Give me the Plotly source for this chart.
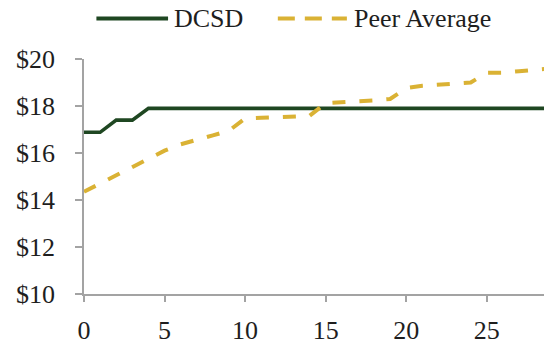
import plotly.graph_objects as go

# ---- data ----
years = list(range(0, 30))
dcsd = [16.88, 16.88, 17.40, 17.40, 17.90, 17.90, 17.90, 17.90, 17.90, 17.90,
        17.90, 17.90, 17.90, 17.90, 17.90, 17.90, 17.90, 17.90, 17.90, 17.90,
        17.90, 17.90, 17.90, 17.90, 17.90, 17.90, 17.90, 17.90, 17.90, 17.90]
peer = [14.35, 14.70, 15.04, 15.38, 15.72, 16.10, 16.37, 16.58, 16.75, 16.95,
        17.47, 17.50, 17.52, 17.54, 17.58, 18.12, 18.15, 18.20, 18.24, 18.30,
        18.76, 18.86, 18.90, 18.93, 19.00, 19.41, 19.42, 19.48, 19.56, 19.60]
series_names = ["DCSD", "Peer Average"]
x_ticks = [0, 5, 10, 15, 20, 25]
y_ticks = [10, 12, 14, 16, 18, 20]
y_tick_labels = ["$10", "$12", "$14", "$16", "$18", "$20"]

GREEN = "#1F4722"
GOLD = "#DAB234"
AXIS = "#A3A3A3"
FONT = "Liberation Serif, Times New Roman, Times, serif"
TXT = "#1E1E1E"

W, H = 544, 345
ML, MR, MT, MB = 84.3, 0, 59, 41.7
PW, PH = W - ML - MR, H - MT - MB

def px(x):
    return (x - ML) / PW

def py(y):
    return (H - MB - y) / PH

fig = go.Figure()
fig.add_trace(go.Scatter(x=years, y=dcsd, mode="lines", name=series_names[0],
                         line=dict(color=GREEN, width=3.6)))
fig.add_trace(go.Scatter(x=years, y=peer, mode="lines", name=series_names[1],
                         line=dict(color=GOLD, width=4, dash="13px,14px")))

# manual legend
leg_y = py(17.0)
fig.add_shape(type="line", xref="paper", yref="paper",
              x0=px(96.7), x1=px(168.3), y0=leg_y, y1=leg_y,
              line=dict(color=GREEN, width=4))
fig.add_shape(type="line", xref="paper", yref="paper",
              x0=px(278), x1=px(347), y0=leg_y, y1=leg_y,
              line=dict(color=GOLD, width=4, dash="17px,10px"))
fig.add_annotation(xref="paper", yref="paper", x=px(172), y=leg_y,
                   xanchor="left", yanchor="middle", text=series_names[0],
                   showarrow=False, font=dict(family=FONT, size=26, color=TXT))
fig.add_annotation(xref="paper", yref="paper", x=px(352), y=leg_y,
                   xanchor="left", yanchor="middle", text=series_names[1],
                   showarrow=False, font=dict(family=FONT, size=26, color=TXT))

fig.update_layout(
    width=W, height=H,
    margin=dict(l=ML, r=MR, t=MT, b=MB, pad=0),
    paper_bgcolor="white", plot_bgcolor="white",
    showlegend=False,
    font=dict(family=FONT, size=26, color=TXT),
)
fig.update_xaxes(range=[0, 28.55], tickvals=x_ticks, showgrid=False, zeroline=False,
                 showline=True, linecolor=AXIS, linewidth=1.6,
                 ticks="outside", ticklen=6, tickcolor=AXIS, tickwidth=1.6,
                 ticklabelstandoff=6)
fig.update_yaxes(range=[10, 20], tickvals=y_ticks, ticktext=y_tick_labels,
                 showgrid=False,
                 zeroline=False, showline=True, linecolor=AXIS, linewidth=1.6,
                 ticks="outside", ticklen=7, tickcolor=AXIS, tickwidth=1.6,
                 ticklabelstandoff=15)

fig.write_html("out.html")
